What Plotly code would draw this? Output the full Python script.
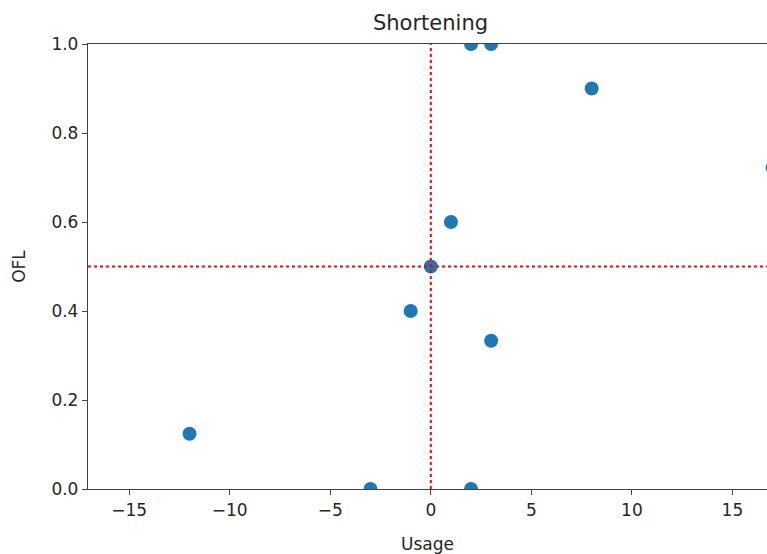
import plotly.graph_objects as go

usage = [-12, -3, -1, 0, 1, 2, 3, 8, 17, 3, 2]
ofl = [0.124, 0.0, 0.4, 0.5, 0.6, 1.0, 1.0, 0.9, 0.722, 0.333, 0.0]
x_ticks = [-15, -10, -5, 0, 5, 10, 15]
y_ticks = [0.0, 0.2, 0.4, 0.6, 0.8, 1.0]

FONT = "DejaVu Sans"
TXT = "#262626"

fig = go.Figure()
fig.add_trace(go.Scatter(
    x=usage, y=ofl, mode="markers",
    marker=dict(color="#1f77b4", size=14, line=dict(width=0)),
    cliponaxis=True, showlegend=False,
))

fig.add_shape(type="line", xref="x", yref="paper", x0=0, x1=0, y0=0, y1=1,
              line=dict(color="red", width=2, dash="dot"), layer="above")
fig.add_shape(type="line", xref="paper", yref="y", x0=0, x1=1, y0=0.5, y1=0.5,
              line=dict(color="red", width=2, dash="dot"), layer="above")

fig.update_layout(
    width=767, height=554,
    margin=dict(l=88, r=0, t=44, b=65),
    paper_bgcolor="white", plot_bgcolor="white",
    font=dict(family=FONT, size=17, color=TXT),
    title=dict(text="Shortening", x=(88 + 773) / 2 / 767, xanchor="center",
               y=1 - 23 / 554, yanchor="middle", yref="container",
               font=dict(family=FONT, size=21, color=TXT)),
    xaxis=dict(range=[-17.05, 16.72], tickvals=x_ticks, ticktext=[("\u2212" + str(-v)) if v < 0 else str(v) for v in x_ticks],
               showgrid=False, zeroline=False, showline=True, linecolor="#444", linewidth=1.3,
               mirror=True, ticks="outside", ticklen=5, tickcolor="#444", tickwidth=1.3,
               tickfont=dict(family=FONT, size=17, color=TXT),
               title=dict(text="Usage", standoff=19, font=dict(family=FONT, size=17, color=TXT))),
    yaxis=dict(range=[0, 1], tickvals=y_ticks, ticktext=[f"{v:.1f}" for v in y_ticks],
               showgrid=False, zeroline=False, showline=True, linecolor="#444", linewidth=1.3,
               ticks="outside", ticklen=5, tickcolor="#444", tickwidth=1.3,
               tickfont=dict(family=FONT, size=17, color=TXT),
               title=dict(text="OFL", standoff=21, font=dict(family=FONT, size=17, color=TXT))),
)

fig.write_html("out.html")
